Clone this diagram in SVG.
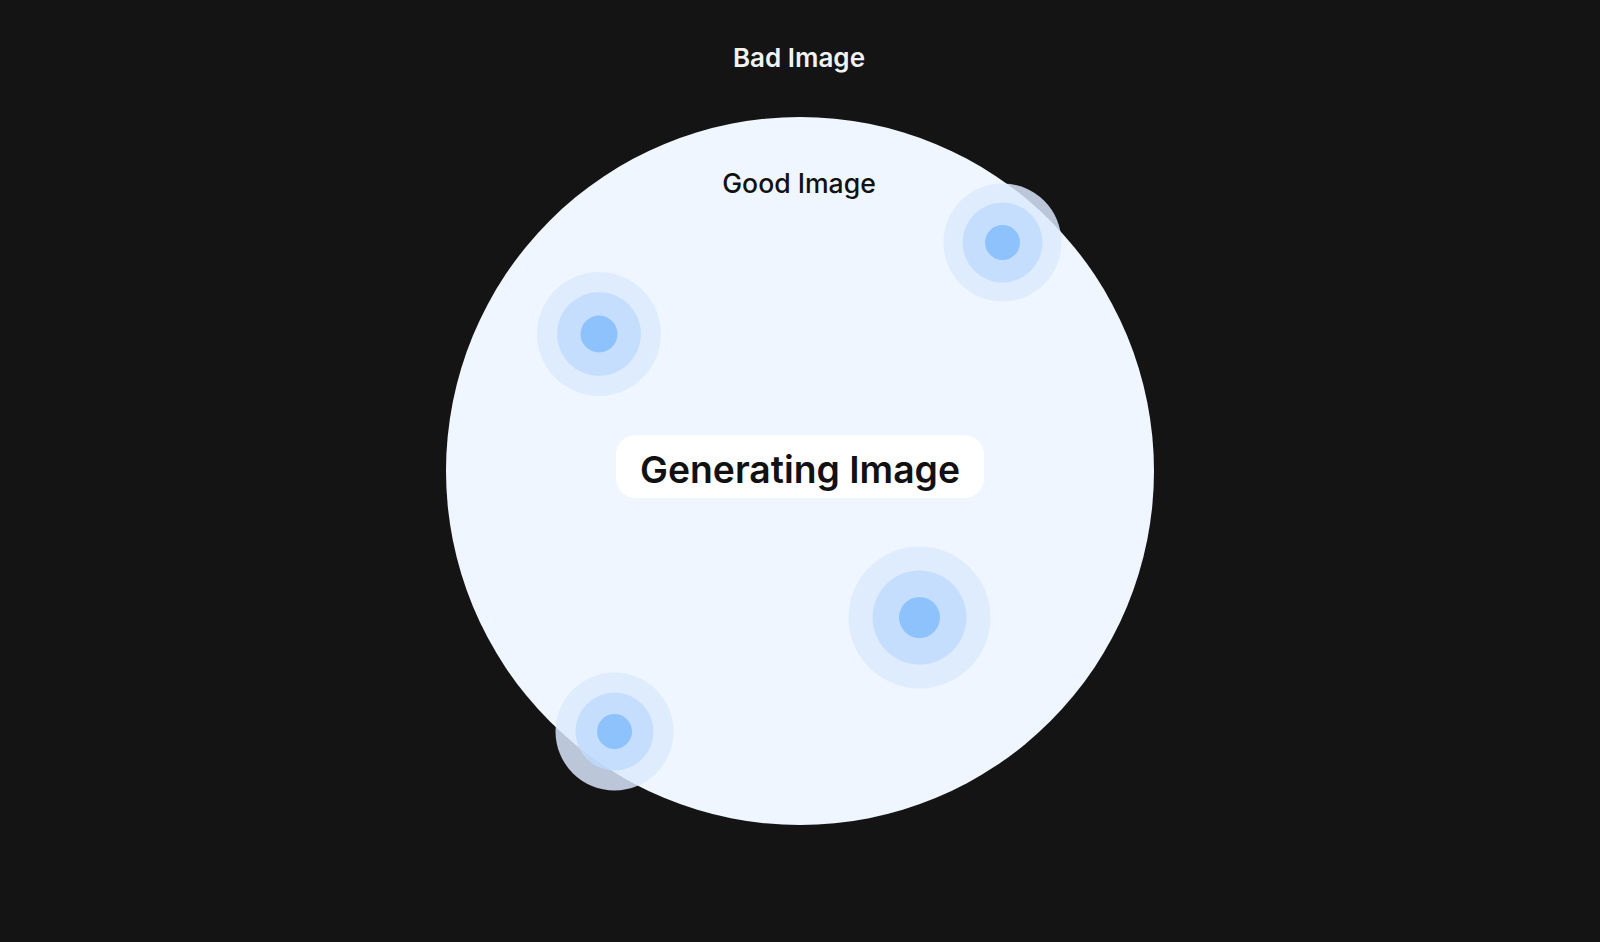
<svg xmlns="http://www.w3.org/2000/svg" width="1600" height="942" viewBox="0 0 1600 942">
<style>
.lbl{font-family:Inter,"Noto Sans","Liberation Sans",sans-serif;text-anchor:middle}
.r1{fill:#dbeafe;fill-opacity:0.84}
.r2{fill:#bfdbfe;fill-opacity:0.8}
.r3{fill:#8ec2fd}
</style>
<rect width="1600" height="942" fill="#141414"/>
<g id="bad-image">
<text class="lbl" x="799" y="67" font-size="26" font-weight="600" fill="#f2f2f2">Bad Image</text>
</g>
<g id="good-image">
<circle cx="800" cy="471" r="354" fill="#eff6ff"/>
<text class="lbl" x="799" y="193" font-size="26.6" font-weight="500" fill="#111111">Good Image</text>
</g>
<g id="connectors"></g>
<g id="dot-top-right">
<circle class="r1" cx="1002.5" cy="242.5" r="59"/>
<circle class="r2" cx="1002.5" cy="242.5" r="40"/>
<circle class="r3" cx="1002.5" cy="242.5" r="17.5"/>
</g>
<g id="dot-left">
<circle class="r1" cx="599" cy="334" r="62"/>
<circle class="r2" cx="599" cy="334" r="42"/>
<circle class="r3" cx="599" cy="334" r="18.5"/>
</g>
<g id="dot-bottom-right">
<circle class="r1" cx="919.5" cy="617.5" r="71"/>
<circle class="r2" cx="919.5" cy="617.5" r="47"/>
<circle class="r3" cx="919.5" cy="617.5" r="20.5"/>
</g>
<g id="dot-bottom-left">
<circle class="r1" cx="614.5" cy="731.5" r="59"/>
<circle class="r2" cx="614.5" cy="731.5" r="39"/>
<circle class="r3" cx="614.5" cy="731.5" r="17.5"/>
</g>
<g id="generating-image">
<rect x="616" y="435" width="368" height="63" rx="20" fill="#ffffff"/>
<text class="lbl" x="800" y="483" font-size="37.3" font-weight="600" fill="#111111">Generating Image</text>
</g>
</svg>
